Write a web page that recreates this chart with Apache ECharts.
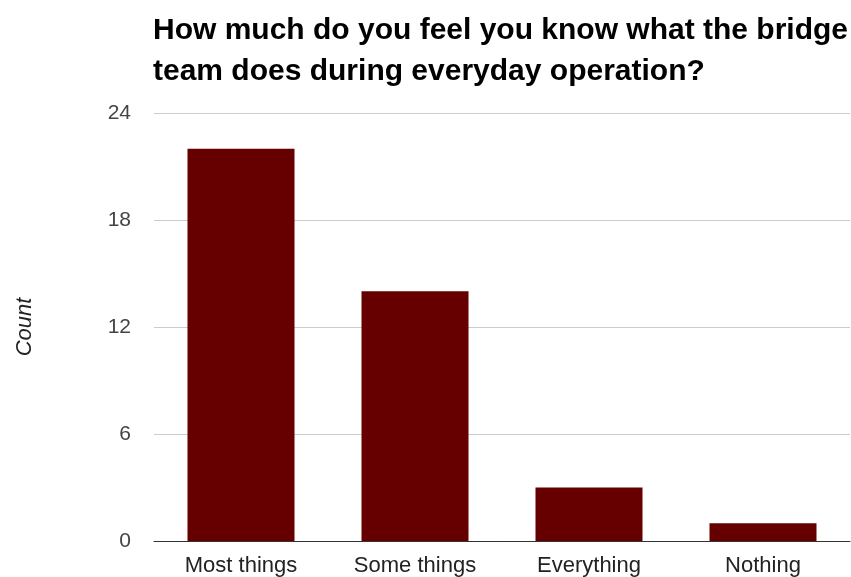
<!DOCTYPE html>
<html>
<head>
<meta charset="utf-8">
<script src="https://cdn.jsdelivr.net/npm/echarts@6/dist/echarts.min.js"></script>
<style>
  html, body { margin: 0; padding: 0; background: #fff; }
  #chart { width: 851px; height: 577px; }
</style>
</head>
<body>
<div id="chart"></div>
<script>
// Survey responses: how well respondents know the bridge team's daily work
const categories = ['Most things', 'Some things', 'Everything', 'Nothing'];
const counts = [22, 14, 3, 1];
const yTicks = [0, 6, 12, 18, 24];

const chart = echarts.init(document.getElementById('chart'), null, { renderer: 'canvas' });

chart.setOption({
  animation: false,
  backgroundColor: '#ffffff',
  title: {
    text: 'How much do you feel you know what the bridge\nteam does during everyday operation?',
    left: 153,
    top: 10,
    padding: 0,
    textStyle: {
      fontFamily: 'Liberation Sans, Arial, sans-serif',
      fontWeight: 'bold',
      fontSize: 30,
      lineHeight: 41,
      color: '#000000'
    }
  },
  grid: {
    left: 154,
    right: 1,
    top: 113,
    bottom: 35
  },
  xAxis: {
    type: 'category',
    data: categories,
    axisLine: { show: true, lineStyle: { color: '#333333', width: 1 } },
    axisTick: { show: false },
    axisLabel: {
      margin: 14,
      fontFamily: 'Liberation Sans, Arial, sans-serif',
      fontSize: 22,
      color: '#222222'
    }
  },
  yAxis: {
    type: 'value',
    min: yTicks[0],
    max: yTicks[yTicks.length - 1],
    interval: 6,
    name: 'Count',
    nameLocation: 'middle',
    nameGap: 118,
    nameRotate: 90,
    nameTextStyle: {
      fontFamily: 'Liberation Sans, Arial, sans-serif',
      fontStyle: 'italic',
      fontSize: 22,
      color: '#222222'
    },
    axisLine: { show: false },
    axisTick: { show: false },
    splitLine: { lineStyle: { color: '#cccccc', width: 1 } },
    axisLabel: {
      margin: 23,
      padding: [4, 0, 0, 0],
      fontFamily: 'Liberation Sans, Arial, sans-serif',
      fontSize: 21,
      color: '#444444'
    }
  },
  series: [{
    type: 'bar',
    data: counts,
    barWidth: '61.5%',
    itemStyle: { color: '#660000' }
  }]
});
</script>
</body>
</html>
